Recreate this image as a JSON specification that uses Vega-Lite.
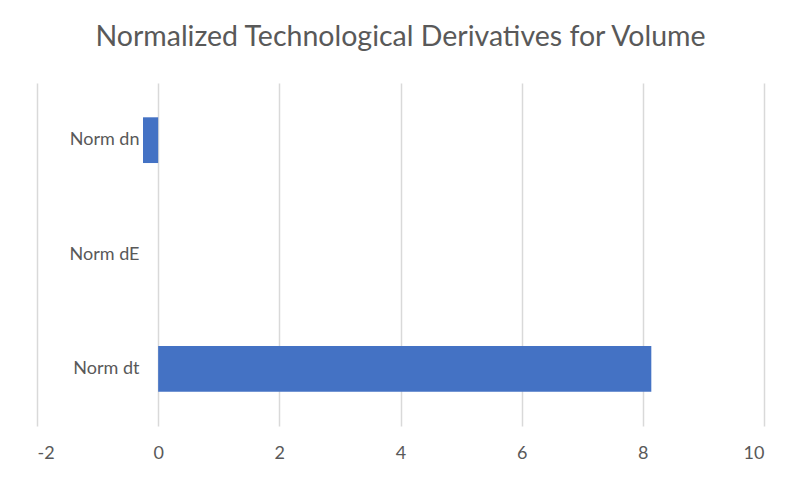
{
  "$schema": "https://vega.github.io/schema/vega-lite/v6.json",
  "width": 727,
  "height": 343,
  "autosize": {"type": "none"},
  "padding": {"left": 37, "top": 83, "right": 36, "bottom": 55},
  "background": "white",
  "title": {
    "text": "Normalized Technological Derivatives for Volume",
    "anchor": "middle",
    "font": "Lato",
    "fontSize": 28.5,
    "fontWeight": "normal",
    "color": "#595959",
    "baseline": "alphabetic",
    "offset": 9
  },
  "data": {
    "values": [
      {"label": "Norm dn", "value": -0.25},
      {"label": "Norm dE", "value": 0},
      {"label": "Norm dt", "value": 8.14}
    ]
  },
  "mark": {"type": "bar", "color": "#4472C4"},
  "encoding": {
    "y": {
      "field": "label",
      "type": "nominal",
      "sort": null,
      "scale": {"paddingInner": 0.6, "paddingOuter": 0.3},
      "axis": {
        "title": null,
        "domain": false,
        "ticks": false,
        "offset": -121,
        "labelPadding": 19,
        "labelFont": "Lato",
        "labelFontSize": 18,
        "labelColor": "#595959"
      }
    },
    "x": {
      "field": "value",
      "type": "quantitative",
      "scale": {"domain": [-2, 10], "nice": false, "zero": false},
      "axis": {
        "title": null,
        "values": [-2, 0, 2, 4, 6, 8, 10],
        "labelExpr": "toString(datum.value)",
        "domain": false,
        "ticks": false,
        "grid": true,
        "gridColor": "#d9d9d9",
        "gridWidth": 1.5,
        "labelPadding": 27,
        "labelBaseline": "middle",
        "labelFont": "Lato",
        "labelFontSize": 18,
        "labelColor": "#595959"
      }
    }
  },
  "config": {"view": {"stroke": null}}
}
